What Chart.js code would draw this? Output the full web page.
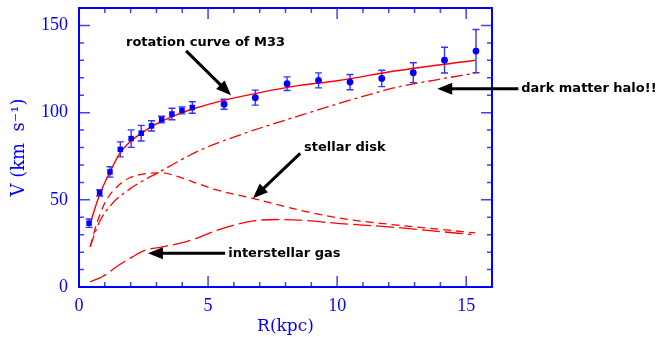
<!DOCTYPE html>
<html>
<head>
<meta charset="utf-8">
<script src="https://cdn.jsdelivr.net/npm/chart.js@4.4.1/dist/chart.umd.min.js"></script>
<style>
  html,body{margin:0;padding:0;background:#fff;}
  canvas{display:block;}
</style>
</head>
<body>
<canvas id="c" width="659" height="337"></canvas>
<script>
// ---- observed rotation curve of M33 ----
const obsR   = [0.39, 0.80, 1.20, 1.60, 2.02, 2.41, 2.81, 3.20, 3.60, 3.99, 4.39, 5.62, 6.83, 8.06, 9.28, 10.50, 11.73, 12.95, 14.16, 15.38];
const obsV   = [36.6, 54.0, 66.0, 78.9, 85.1, 88.2, 92.4, 96.0, 99.2, 101.3, 102.9, 104.8, 108.6, 116.6, 118.5, 117.5, 119.6, 122.9, 130.1, 135.3];
const obsErr = [2.4, 1.8, 3.0, 4.3, 5.0, 4.5, 2.9, 1.9, 3.3, 2.0, 3.3, 2.9, 4.3, 3.9, 4.3, 4.4, 4.7, 5.7, 7.4, 12.4];
const obsShape = ['rect','rect','rect','rect','rect','rect','rect','rect','rect','rect','rect',
                  'circle','circle','circle','circle','circle','circle','circle','circle','circle'];

// ---- model: total fit ----
const fitR = [0.40, 0.80, 1.20, 1.60, 2.00, 2.50, 3.00, 3.50, 4.00, 4.50, 5.60, 7.00, 8.50, 10.00, 12.30, 15.35];
const fitV = [35.0, 53.0, 66.0, 77.0, 83.5, 89.0, 93.5, 97.0, 100.0, 102.5, 107.0, 111.5, 115.5, 118.3, 124.0, 130.0];

// ---- dark matter halo ----
const haloR = [0.43, 0.78, 1.30, 1.95, 2.60, 3.00, 3.90, 4.70, 6.00, 7.30, 8.60, 9.90, 11.00, 12.30, 13.80, 15.35];
const haloV = [23.0, 37.0, 48.0, 56.0, 62.0, 65.0, 72.5, 78.5, 86.0, 92.5, 98.5, 104.5, 109.3, 114.5, 118.7, 122.7];

// ---- stellar disk ----
const diskR = [0.43, 0.70, 1.03, 1.55, 1.95, 2.60, 3.16, 3.90, 4.60, 5.30, 6.76, 8.57, 10.10, 12.00, 13.70, 15.35];
const diskV = [23.0, 37.0, 49.0, 58.5, 62.5, 65.0, 65.5, 63.0, 59.3, 55.8, 50.7, 44.0, 39.5, 36.0, 33.5, 31.0];

// ---- interstellar gas ----
const gasR = [0.43, 0.90, 1.55, 2.07, 2.58, 3.23, 3.88, 4.52, 5.36, 6.76, 7.66, 8.57, 10.12, 12.00, 13.70, 15.20];
const gasV = [3.0, 5.9, 12.6, 17.3, 21.1, 23.0, 25.0, 27.8, 32.6, 37.9, 38.7, 38.3, 36.4, 34.5, 32.2, 30.1];

// ---- axes ----
const xTickLabels = [0, 5, 10, 15];
const yTickLabels = [0, 50, 100, 150];
const xMinorTicks = [1,2,3,4,5,6,7,8,9,10,11,12,13,14,15];
const yMinorTicks = [10,20,30,40,50,60,70,80,90,100,110,120,130,140,150];

// ---- annotations (text in data units) ----
const notes = [
  {text: 'rotation curve of M33', tx: 1.82, ty: 140.0, ax0: 4.15, ay0: 135.4, ax1: 5.89, ay1: 110.0},
  {text: 'dark matter halo!!',   tx: 17.13, ty: 113.7, ax0: 17.02, ay0: 113.7, ax1: 13.88, ay1: 113.7},
  {text: 'stellar disk',         tx: 8.72, ty: 80.0, ax0: 8.57, ay0: 76.6, ax1: 6.74, ay1: 50.9},
  {text: 'interstellar gas',     tx: 5.78, ty: 19.4, ax0: 5.66, ay0: 19.4, ax1: 2.67, ay1: 19.4}
];

const BLUE = '#0000ff';
const RED = '#ff0000';
const pts = (xs, ys) => xs.map((x, i) => ({x: x, y: ys[i]}));

const errorBars = {
  id: 'errorBars',
  beforeDatasetsDraw(chart) {
    const {ctx, scales: {x, y}} = chart;
    ctx.save();
    ctx.strokeStyle = 'rgba(0,0,255,0.8)';
    ctx.lineWidth = 1.4;
    obsR.forEach((r, i) => {
      const px = x.getPixelForValue(r);
      const y0 = y.getPixelForValue(obsV[i] - obsErr[i]);
      const y1 = y.getPixelForValue(obsV[i] + obsErr[i]);
      ctx.beginPath();
      ctx.moveTo(px, y0); ctx.lineTo(px, y1);
      ctx.moveTo(px - 3.5, y0); ctx.lineTo(px + 3.5, y0);
      ctx.moveTo(px - 3.5, y1); ctx.lineTo(px + 3.5, y1);
      ctx.stroke();
    });
    ctx.restore();
  }
};

const frame = {
  id: 'frame',
  afterDraw(chart) {
    const {ctx, chartArea: a, scales: {x, y}} = chart;
    ctx.save();
    ctx.strokeStyle = 'rgba(0,0,255,0.75)';
    ctx.lineWidth = 1.5;
    ctx.beginPath();
    xMinorTicks.forEach(v => {
      const px = x.getPixelForValue(v);
      const len = xTickLabels.includes(v) ? 11 : 5;
      ctx.moveTo(px, a.bottom); ctx.lineTo(px, a.bottom - len);
      ctx.moveTo(px, a.top); ctx.lineTo(px, a.top + len);
    });
    yMinorTicks.forEach(v => {
      const py = y.getPixelForValue(v);
      const len = yTickLabels.includes(v) ? 11 : 5;
      ctx.moveTo(a.left, py); ctx.lineTo(a.left + len, py);
      ctx.moveTo(a.right, py); ctx.lineTo(a.right - len, py);
    });
    ctx.stroke();
    ctx.strokeStyle = BLUE;
    ctx.lineWidth = 2;
    ctx.strokeRect(a.left, a.top, a.right - a.left, a.bottom - a.top);
    ctx.restore();
  }
};

function arrow(ctx, x0, y0, x1, y1) {
  const ang = Math.atan2(y1 - y0, x1 - x0);
  const hl = 15, hw = 6;
  const bx = x1 - hl * Math.cos(ang), by = y1 - hl * Math.sin(ang);
  ctx.beginPath();
  ctx.moveTo(x0, y0); ctx.lineTo(bx + 2 * Math.cos(ang), by + 2 * Math.sin(ang));
  ctx.stroke();
  ctx.beginPath();
  ctx.moveTo(x1, y1);
  ctx.lineTo(bx + hw * Math.sin(ang), by - hw * Math.cos(ang));
  ctx.lineTo(bx - hw * Math.sin(ang), by + hw * Math.cos(ang));
  ctx.closePath();
  ctx.fill();
}

const annot = {
  id: 'annot',
  afterDraw(chart) {
    const {ctx, scales: {x, y}} = chart;
    ctx.save();
    ctx.fillStyle = '#000';
    ctx.strokeStyle = '#000';
    ctx.lineWidth = 3;
    ctx.font = 'bold 13px "DejaVu Sans"';
    ctx.textBaseline = 'middle';
    ctx.textAlign = 'left';
    notes.forEach(n => {
      ctx.fillText(n.text, x.getPixelForValue(n.tx), y.getPixelForValue(n.ty));
      arrow(ctx, x.getPixelForValue(n.ax0), y.getPixelForValue(n.ay0),
                 x.getPixelForValue(n.ax1), y.getPixelForValue(n.ay1));
    });
    ctx.restore();
  }
};

new Chart(document.getElementById('c'), {
  type: 'scatter',
  data: {
    datasets: [
      {
        data: pts(obsR, obsV),
        backgroundColor: BLUE, borderColor: BLUE, borderWidth: 0,
        pointStyle: obsShape,
        pointRadius: obsShape.map(s => s === 'rect' ? 3.9 : 3.4),
        showLine: false
      },
      {
        data: pts(fitR, fitV), showLine: true, borderColor: RED, borderWidth: 1.4,
        pointRadius: 0, cubicInterpolationMode: 'monotone'
      },
      {
        data: pts(haloR, haloV), showLine: true, borderColor: RED, borderWidth: 1.3,
        pointRadius: 0, cubicInterpolationMode: 'monotone', borderDash: [12, 4, 3, 4]
      },
      {
        data: pts(diskR, diskV), showLine: true, borderColor: RED, borderWidth: 1.3,
        pointRadius: 0, cubicInterpolationMode: 'monotone', borderDash: [8, 5]
      },
      {
        data: pts(gasR, gasV), showLine: true, borderColor: RED, borderWidth: 1.3,
        pointRadius: 0, cubicInterpolationMode: 'monotone', borderDash: [18, 5]
      }
    ]
  },
  options: {
    responsive: false,
    animation: false,
    devicePixelRatio: 1,
    layout: {padding: {left: 0, right: 167, top: 8, bottom: 0}},
    plugins: {legend: {display: false}, tooltip: {enabled: false}},
    scales: {
      x: {
        type: 'linear', min: 0, max: 16,
        grid: {display: false, drawTicks: false},
        border: {display: false},
        afterBuildTicks: s => { s.ticks = xTickLabels.map(v => ({value: v})); },
        afterFit: s => { s.height = 50; s.paddingLeft = 0; s.paddingRight = 0; },
        ticks: {color: BLUE, padding: 8, font: {family: '"Liberation Serif"', size: 18}},
        title: {display: true, text: 'R(kpc)', color: BLUE, padding: {top: 0, bottom: 0},
                font: {family: '"DejaVu Serif"', size: 17}}
      },
      y: {
        type: 'linear', min: 0, max: 160,
        grid: {display: false, drawTicks: false},
        border: {display: false},
        afterBuildTicks: s => { s.ticks = yTickLabels.map(v => ({value: v})); },
        afterFit: s => { s.width = 79; s.paddingTop = 0; s.paddingBottom = 0; },
        ticks: {color: BLUE, padding: 11, font: {family: '"Liberation Serif"', size: 18}},
        title: {display: true, text: 'V (km  s⁻¹)', color: BLUE, padding: {top: 9, bottom: 0},
                font: {family: '"DejaVu Serif"', size: 18}}
      }
    }
  },
  plugins: [errorBars, frame, annot]
});
</script>
</body>
</html>
